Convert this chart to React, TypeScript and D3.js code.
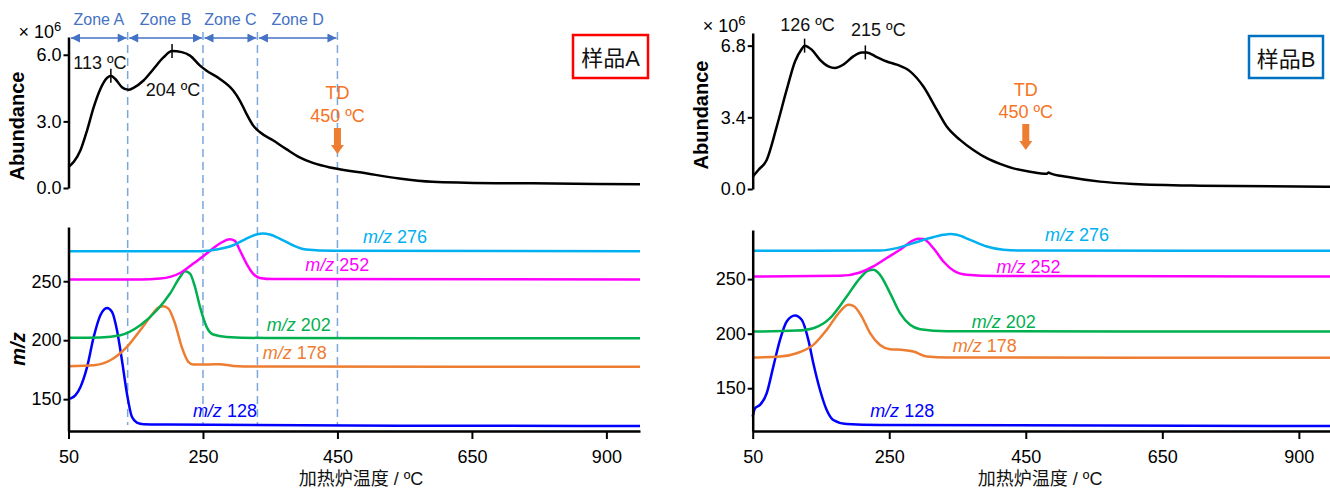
import { useEffect, useRef } from 'react';
import * as d3 from 'd3';

const FONT = 'Liberation Sans, Arial, Helvetica, sans-serif';
const CJK = 'Liberation Sans, Noto Sans CJK SC, sans-serif';

// x axis ticks (the last tick is labelled 900 in the source figure)
const xTicks = [50, 250, 450, 650, 850];
const xTickLabels = ['50', '250', '450', '650', '900'];

const mzNames = [128, 178, 202, 252, 276];
const mzColors = ['#0000FF', '#ED7D31', '#00B050', '#FF00FF', '#00B0F0'];

const zoneBounds = [50, 138, 250, 331, 450];
const zoneNames = ['Zone A', 'Zone B', 'Zone C', 'Zone D'];
const tdTemp = 450;

// ---- sample A ----
const abundA = [[50,0.95],[57.9,1.18],[67.8,1.70],[77.7,2.60],[87.5,3.64],[97.4,4.46],[107.3,4.96],[113,5.06],[119.6,4.91],[129.5,4.54],[139.4,4.42],[146.7,4.51],[161.6,4.84],[176.4,5.36],[191.2,5.88],[204,6.17],[218.4,6.12],[230.7,5.96],[245.6,5.51],[255.4,5.28],[275.2,4.91],[294.9,4.39],[304.8,3.94],[314.7,3.34],[324.5,2.82],[334.4,2.52],[354.1,2.15],[374,1.75],[393.7,1.38],[413.4,1.13],[443,0.9],[492.5,0.66],[541.9,0.43],[591.2,0.28],[640.6,0.24],[739.3,0.21],[900,0.17]];
const m128A = [[50,150],[53,150.6],[60.4,153.4],[67.8,160.4],[77.7,177.4],[87.5,202.8],[97.4,221.2],[107.3,227.4],[114.7,224],[122.1,208.5],[129.5,183],[136.9,154.8],[144.3,135],[151.7,130.2],[161.6,128.8],[196,128.5],[542,127.5],[900,127.3]];
const m178A = [[50,178],[87.5,178.8],[112.2,183],[136.9,194.3],[156.7,208.5],[171.5,219.8],[183.8,227.7],[191.2,228.8],[198.6,226.8],[208.5,214.1],[218.4,194.3],[228.2,181.6],[235.6,179.4],[255.4,179.4],[275.2,179.7],[294.9,178.2],[344,177.6],[900,177.5]];
const m202A = [[50,202],[97.4,202.3],[127,204.2],[156.7,212.7],[181.4,225.4],[201.1,239.6],[215.9,253.6],[223.3,258.5],[230.7,256.5],[238.1,245.2],[245.6,228.2],[255.4,211.3],[265.3,204.8],[285,202.8],[344,201.9],[900,201.6]];
const m252A = [[50,251.5],[156.7,251.5],[186.3,252.3],[215.9,257],[235.6,265],[255.4,273.5],[275.2,282],[290,285.6],[297.4,284.2],[304.8,276.3],[314.7,265],[324.5,256.5],[334.4,252.8],[354,251.8],[900,251.5]];
const m276A = [[50,275.5],[245.6,275.5],[270.3,276.9],[294.9,280.5],[314.7,286.2],[329.5,289.6],[339.4,290.4],[349.3,289.6],[364,286.2],[383.8,280.5],[403.6,276.9],[443,275.8],[900,275.4]];
const peaksA = [[113, 5.06], [204, 6.17]];
const mzLabelPosA = [[235, 134.9], [339, 184.1], [345, 207.8], [402, 258.7], [488, 282.5]];

// ---- sample B ----
const abundB = [[50,0.58],[58.3,0.90],[70.5,1.38],[85.2,2.96],[99.8,4.71],[112,6.05],[121.8,6.64],[126,6.8],[136.4,6.61],[148.6,6.13],[160.8,5.82],[170.6,5.74],[182.8,5.90],[197.4,6.29],[209.7,6.48],[217,6.48],[231.7,6.26],[246.3,6.05],[261,5.90],[280.5,5.58],[300,4.86],[319.6,3.76],[334.2,2.96],[353.7,2.33],[373.2,1.85],[392.9,1.46],[412.3,1.19],[431.8,0.98],[456.3,0.82],[480.8,0.72],[483.5,0.78],[486,0.74],[510,0.58],[558.9,0.35],[607.7,0.24],[705.4,0.16],[900,0.11]];
const m128B = [[50,124],[53.4,131.6],[60.7,134.7],[70.5,145.4],[80.2,169.8],[90,194.3],[99.8,211.1],[112,216.6],[121.8,212.7],[131.5,194.3],[138.8,172.9],[148.6,148.4],[158.4,130.1],[168.1,120.9],[187.7,117.2],[236.5,116.3],[900,115.3]];
const m178B = [[50,178.1],[90,179],[114.5,182.1],[138.8,189.7],[158.4,203.5],[177.9,220.3],[190.1,226.4],[197.4,225.5],[209.7,215.7],[221.9,200.5],[236.5,189.7],[251.2,185.8],[270.7,185.1],[285.3,183.6],[305,179],[334.2,178.1],[900,178]];
const m202B = [[50,201.9],[114.5,202.8],[138.8,205],[163.3,214.2],[187.7,234],[207.2,250.9],[219.4,257.9],[226.7,258.5],[236.5,253.9],[251.2,237.2],[265.8,218.8],[280.5,208.1],[295.1,204.1],[334.2,202.2],[900,201.9]];
const m252B = [[50,252.4],[177.9,253],[207.2,256.1],[226.7,261.6],[246.3,269.3],[265.8,276.9],[285.3,285.4],[292.6,287],[300,286.7],[314.6,278.4],[329.3,266.1],[343.9,257.9],[363.5,254],[407.5,252.8],[900,252.4]];
const m276B = [[50,276],[236.5,276.2],[261,278.4],[285.3,283],[309.8,287.6],[329.3,290.6],[339.1,291.3],[348.9,290.6],[368.4,286],[392.9,279.9],[417.2,276.9],[456,276.1],[900,276]];
const peaksB = [[126, 6.8], [215, 6.48]];
const mzLabelPosB = [[222, 123.6], [343, 183.2], [371, 205.2], [407, 255.6], [478, 284.9]];

const panels = [
  {
    xr: [68.5, 640], aTop: 37, aBot: 188, aMax: 6.8, aTicks: [0, 3, 6], mzTop: 227, mzDom: [123, 296],
    abund: abundA, mz: [m128A, m178A, m202A, m252A, m276A], peaks: peaksA, labelPos: mzLabelPosA,
    peakOff: [[-11, -7], [1, 45]], abundY: 126, sciY: 38, tdY: [99, 122, 128], xTitle: 485,
    box: { x: 573, y: 35, w: 75, h: 43, color: '#FF0000', text: '样品A' }, zones: true,
  },
  {
    xr: [752.7, 1333], aTop: 33, aBot: 189, aMax: 7.4, aTicks: [0, 3.4, 6.8], mzTop: 230, mzDom: [110.8, 295],
    abund: abundB, mz: [m128B, m178B, m202B, m252B, m276B], peaks: peaksB, labelPos: mzLabelPosB,
    peakOff: [[3, -15], [13, -16]], abundY: 115, sciY: 32, tdY: [96, 118, 124], xTitle: 471,
    box: { x: 1249, y: 36, w: 74, h: 42, color: '#0070C0', text: '样品B' }, zones: false,
  },
];

function styleAxis(g: any) {
  g.attr('font-family', FONT).attr('font-size', 18);
  g.selectAll('.domain').attr('stroke', '#000').attr('stroke-width', 2.5);
  g.selectAll('.tick line').attr('stroke', '#000').attr('stroke-width', 2);
  g.selectAll('.tick text').attr('fill', '#000');
}

function App() {
  const node = useRef<SVGSVGElement>(null);
  useEffect(() => {
    if (!node.current) return;
    const svg = d3.select(node.current);
    svg.selectAll('*').remove();

    panels.forEach((p, pi) => {
      const x = d3.scaleLinear().domain([50, 900]).range(p.xr);
      const yA = d3.scaleLinear().domain([0, p.aMax]).range([p.aBot, p.aTop]);
      const yM = d3.scaleLinear().domain(p.mzDom).range([431, p.mzTop]);
      const x0 = p.xr[0];

      // zones (sample A only)
      if (p.zones) {
        zoneBounds.slice(1).forEach(t => {
          svg.append('line').attr('x1', x(t)).attr('x2', x(t)).attr('y1', 32).attr('y2', 425)
            .attr('stroke', '#7BA7DA').attr('stroke-width', 1.5).attr('stroke-dasharray', '8,5');
        });
        const defs = svg.append('defs');
        defs.append('marker').attr('id', 'zh').attr('viewBox', '0 0 10 10').attr('refX', 10).attr('refY', 5)
          .attr('markerWidth', 10).attr('markerHeight', 9).attr('markerUnits', 'userSpaceOnUse').attr('orient', 'auto-start-reverse')
          .append('path').attr('d', 'M0,0L10,5L0,10Z').attr('fill', '#4472C4');
        zoneNames.forEach((z, i) => {
          const a = x(zoneBounds[i]) + (i === 0 ? 2.5 : 1.5);
          const b = x(zoneBounds[i + 1]) - 1;
          svg.append('line').attr('x1', a).attr('x2', b).attr('y1', 38).attr('y2', 38)
            .attr('stroke', '#4472C4').attr('stroke-width', 1.5)
            .attr('marker-start', 'url(#zh)').attr('marker-end', 'url(#zh)');
          svg.append('text').attr('x', (a + b) / 2).attr('y', 25).attr('text-anchor', 'middle')
            .attr('font-family', FONT).attr('font-size', 16).attr('fill', '#4472C4').text(z);
        });
      }

      // abundance curve
      const lineA = d3.line<number[]>().x(d => x(d[0])).y(d => yA(d[1])).curve(d3.curveMonotoneX);
      svg.append('path').attr('d', lineA(p.abund)).attr('fill', 'none').attr('stroke', '#000').attr('stroke-width', 2.5);

      p.peaks.forEach((pk, i) => {
        const px = x(pk[0]), py = yA(pk[1]);
        svg.append('line').attr('x1', px).attr('x2', px).attr('y1', py - 7).attr('y2', py + 7)
          .attr('stroke', '#000').attr('stroke-width', 1.5);
        svg.append('text').attr('x', px + p.peakOff[i][0]).attr('y', py + p.peakOff[i][1])
          .attr('text-anchor', 'middle').attr('font-family', FONT).attr('font-size', 18).attr('fill', '#111')
          .text(`${pk[0]} ºC`);
      });

      // TD marker
      const tx = x(tdTemp);
      svg.append('text').attr('x', tx).attr('y', p.tdY[0]).attr('text-anchor', 'middle')
        .attr('font-family', FONT).attr('font-size', 18).attr('fill', '#F57322').text('TD');
      svg.append('text').attr('x', tx).attr('y', p.tdY[1]).attr('text-anchor', 'middle')
        .attr('font-family', FONT).attr('font-size', 18).attr('fill', '#F57322').text('450 ºC');
      const ay = p.tdY[2];
      svg.append('path')
        .attr('d', `M${tx - 3.5},${ay}H${tx + 3.5}V${ay + 17}H${tx + 6.5}L${tx},${ay + 26}L${tx - 6.5},${ay + 17}H${tx - 3.5}Z`)
        .attr('fill', '#ED7D31');

      // top y axis
      const gA = svg.append('g').attr('transform', `translate(${x0},0)`)
        .call(d3.axisLeft(yA).tickValues(p.aTicks).tickFormat(d3.format('.1f')).tickSize(5).tickPadding(2).tickSizeOuter(0));
      styleAxis(gA);
      svg.append('text').attr('x', x0 - 50).attr('y', p.sciY).attr('font-family', FONT).attr('font-size', 18).attr('fill', '#000')
        .call(t => {
          t.append('tspan').text('× 10');
          t.append('tspan').attr('font-size', 13).attr('dy', -7).text('6');
        });
      svg.append('text').attr('transform', `translate(${x0 - 45},${p.abundY}) rotate(-90)`).attr('text-anchor', 'middle')
        .attr('font-family', FONT).attr('font-size', 20).attr('font-weight', 'bold').attr('fill', '#000').text('Abundance');

      // m/z traces
      const lineM = d3.line<number[]>().x(d => x(d[0])).y(d => yM(d[1])).curve(d3.curveMonotoneX);
      p.mz.forEach((s, i) => {
        svg.append('path').attr('d', lineM(s)).attr('fill', 'none').attr('stroke', mzColors[i]).attr('stroke-width', 2.5);
        const lp = p.labelPos[i];
        const t = svg.append('text').attr('x', x(lp[0])).attr('y', yM(lp[1]))
          .attr('font-family', FONT).attr('font-size', 18).attr('fill', mzColors[i]);
        t.append('tspan').attr('font-style', 'italic').text('m/z');
        t.append('tspan').text(` ${mzNames[i]}`);
      });

      const gM = svg.append('g').attr('transform', `translate(${x0},0)`)
        .call(d3.axisLeft(yM).tickValues([150, 200, 250]).tickSize(5).tickPadding(2).tickSizeOuter(0));
      styleAxis(gM);
      const gX = svg.append('g').attr('transform', 'translate(0,431)')
        .call(d3.axisBottom(x).tickValues(xTicks).tickFormat((_d, i) => xTickLabels[i]).tickSize(8).tickPadding(11).tickSizeOuter(0));
      styleAxis(gX);

      if (pi === 0) {
        svg.append('text').attr('transform', `translate(${x0 - 44},349) rotate(-90)`).attr('text-anchor', 'middle')
          .attr('font-family', FONT).attr('font-size', 20).attr('font-weight', 'bold').attr('font-style', 'italic')
          .attr('fill', '#000').text('m/z');
      }
      svg.append('text').attr('x', x(p.xTitle)).attr('y', 485).attr('text-anchor', 'middle')
        .attr('font-family', CJK).attr('font-size', 18).attr('fill', '#111').text('加热炉温度 / ºC');

      // sample box
      const b = p.box;
      svg.append('rect').attr('x', b.x).attr('y', b.y).attr('width', b.w).attr('height', b.h)
        .attr('fill', '#fff').attr('stroke', b.color).attr('stroke-width', 2.5);
      svg.append('text').attr('x', b.x + b.w / 2).attr('y', b.y + 31).attr('text-anchor', 'middle')
        .attr('font-family', CJK).attr('font-size', 22).attr('fill', '#111').text(b.text);
    });
  }, [node]);

  return (
    <svg ref={node} width={1330} height={492} style={{ position: 'absolute', left: 0, top: 0, background: '#fff' }}></svg>
  );
}

export default App;
